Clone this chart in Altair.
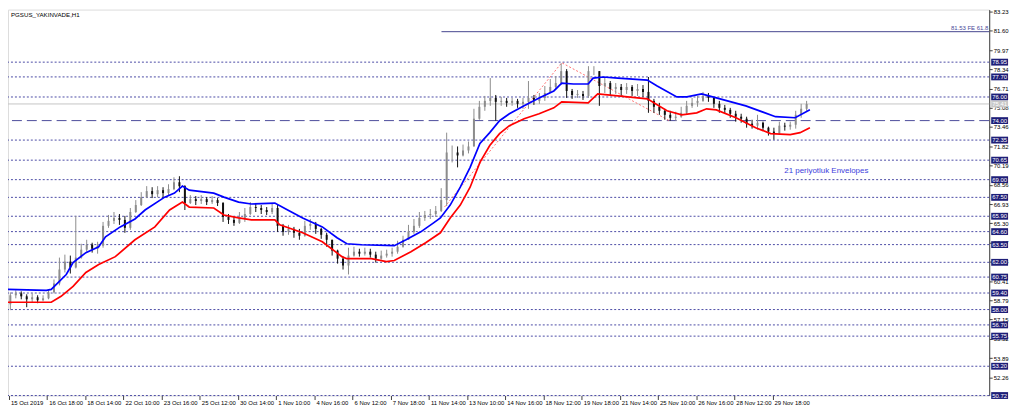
import altair as alt
import pandas as pd

# ---------------- data ----------------
symbol_title = "PGSUS_YAKINVADE,H1"

# candles (each candle = 2 hourly bars), open of first candle, then close/high/low
first_open = 58.45
close = [
    59.21, 59.37, 59.12, 58.87, 59.04, 58.79, 58.95, 59.46, 60.21, 61.39,
    62.06, 61.56, 62.40, 63.07, 63.49, 63.15, 63.41, 65.09, 65.51, 65.76,
    65.59, 64.92, 66.26, 66.85, 67.52, 68.03, 67.77, 68.11, 67.86, 68.20,
    68.78, 68.45, 67.02, 67.35, 67.19, 67.35, 67.10, 67.27, 67.02, 65.84,
    65.59, 65.34, 65.76, 66.09, 66.68, 66.60, 66.43, 66.26, 66.60, 65.09,
    64.58, 64.83, 64.50, 64.25, 65.09, 65.25, 64.83, 64.33, 63.91, 62.99,
    62.31, 61.73, 62.57, 62.90, 62.73, 62.90, 62.65, 62.31, 62.57, 62.73,
    62.90, 63.32, 63.91, 64.58, 65.09, 65.76, 66.01, 66.09, 66.35, 67.27,
    71.30, 71.30, 71.05, 71.47, 71.81, 74.16, 75.17, 75.67, 75.92, 75.59,
    75.67, 75.50, 75.67, 75.42, 75.59, 75.92, 75.67, 75.92, 76.34, 76.85,
    77.18, 78.19, 76.51, 76.17, 76.26, 76.09, 78.19, 78.19, 76.93, 77.18,
    76.68, 76.85, 76.59, 76.85, 76.51, 76.68, 76.43, 75.67, 75.17, 74.83,
    74.49, 74.24, 74.33, 74.66, 75.25, 75.50, 75.67, 76.09, 75.92, 75.42,
    75.08, 74.91, 74.58, 74.33, 74.16, 73.74, 73.57, 73.82, 73.40, 73.07,
    72.90, 73.57, 73.49, 73.65, 74.49, 75.00, 75.41,
]
high = [
    59.46, 59.63, 59.54, 59.29, 59.37, 59.21, 59.21, 59.71, 60.55, 62.40,
    62.65, 62.57, 65.93, 63.57, 63.91, 63.66, 63.74, 65.42, 66.01, 66.26,
    66.09, 65.93, 66.60, 67.27, 67.94, 68.45, 68.36, 68.45, 68.36, 68.61,
    69.20, 69.29, 68.53, 67.69, 67.61, 67.69, 67.52, 67.61, 67.44, 67.10,
    66.09, 65.84, 66.26, 66.60, 67.10, 67.02, 66.85, 66.68, 67.02, 66.85,
    65.25, 65.17, 65.00, 64.83, 65.51, 65.67, 65.42, 64.92, 64.50, 63.91,
    63.07, 62.48, 63.24, 63.32, 63.15, 63.24, 63.15, 62.90, 62.99, 63.07,
    63.24, 63.83, 64.25, 65.17, 65.67, 66.26, 66.35, 66.51, 66.77, 68.28,
    72.98, 71.89, 71.81, 71.97, 72.23, 75.00, 75.67, 76.09, 77.60, 76.17,
    76.01, 75.92, 75.92, 75.84, 75.92, 77.35, 76.17, 76.34, 76.93, 77.52,
    77.77, 78.86, 78.36, 76.68, 76.59, 76.51, 78.61, 78.61, 78.19, 77.69,
    77.35, 77.18, 77.10, 77.18, 77.01, 77.10, 77.01, 77.69, 75.84, 75.50,
    75.00, 74.83, 74.75, 75.17, 75.67, 75.92, 76.09, 76.43, 76.34, 76.01,
    75.67, 75.33, 75.08, 74.83, 74.58, 74.33, 74.07, 74.49, 73.91, 73.49,
    73.40, 73.91, 73.82, 73.91, 74.83, 75.42, 75.67,
]
low = [
    57.95, 58.95, 58.87, 58.20, 58.62, 58.54, 58.70, 58.87, 59.37, 60.05,
    61.14, 61.05, 61.48, 62.31, 62.90, 62.82, 62.73, 63.24, 64.92, 65.25,
    65.17, 64.50, 64.75, 66.18, 66.77, 67.44, 67.44, 67.52, 67.44, 67.61,
    68.11, 67.94, 66.43, 66.94, 66.85, 66.94, 66.85, 66.94, 66.77, 65.42,
    65.25, 65.09, 65.25, 65.42, 66.01, 66.26, 66.09, 66.01, 66.09, 64.58,
    64.25, 64.33, 64.08, 63.91, 64.16, 64.75, 64.41, 63.99, 63.32, 62.57,
    61.89, 61.39, 60.97, 62.48, 62.48, 62.57, 62.40, 61.98, 62.23, 62.40,
    62.48, 62.73, 63.24, 63.91, 64.41, 64.92, 65.51, 65.67, 65.84, 66.26,
    66.77, 70.46, 70.04, 70.97, 71.22, 71.81, 74.07, 74.83, 75.25, 73.99,
    75.25, 75.17, 75.25, 75.08, 75.00, 75.00, 75.33, 75.42, 75.67, 76.34,
    76.68, 77.01, 75.92, 75.84, 75.92, 75.75, 75.92, 77.85, 75.25, 76.34,
    76.17, 76.26, 76.09, 76.26, 76.09, 76.09, 76.01, 74.66, 74.66, 74.49,
    74.07, 73.99, 73.99, 74.24, 74.49, 75.08, 75.17, 75.59, 75.59, 75.08,
    74.66, 74.58, 74.24, 73.91, 73.82, 73.40, 73.32, 73.23, 73.15, 72.73,
    72.39, 72.81, 73.15, 73.23, 73.32, 74.24, 74.83,
]

# 21-period envelopes (bar index, price)
upper_bar = [-0.4, 13.7, 15.5, 21.0, 23.5, 28.2, 32.9, 35.4, 40.8, 46.2, 49.9, 57.1, 60.7,
             63.6, 66.1, 75.1, 78.8, 84.2, 88.9, 97.5, 102.2, 107.7, 114.9, 120.3, 123.9,
             129.3, 141.3, 145.6, 151.0, 155.7, 158.2, 161.8, 165.5, 169.1, 172.7, 176.3,
             179.9, 183.5, 188.9, 194.4, 199.8, 202.7, 207.0, 212.4, 214.2, 217.9, 223.3,
             234.1, 237.7, 244.9, 248.6, 254.0, 259.4, 270.2, 281.1, 288.3, 293.7]
upper_price = [59.71, 59.63, 59.71, 60.97, 61.98, 62.82, 63.32, 64.16, 65.00, 65.67, 66.43,
               67.52, 67.86, 68.45, 68.11, 67.86, 67.52, 67.10, 66.94, 67.02, 66.43, 65.76,
               65.00, 64.08, 63.57, 63.49, 63.41, 63.91, 64.58, 65.34, 65.76, 66.85, 68.36,
               70.04, 72.06, 72.98, 73.99, 74.58, 75.25, 75.92, 76.51, 77.18, 77.10, 77.10,
               77.60, 77.69, 77.60, 77.43, 76.93, 76.01, 76.01, 76.26, 75.92, 75.25, 74.33,
               74.24, 74.91]
lower_bar = [-0.4, 13.7, 15.5, 19.1, 23.5, 28.2, 32.9, 39.0, 46.2, 53.5, 58.9, 63.6, 66.1,
             75.1, 78.8, 84.2, 88.9, 97.5, 99.3, 107.7, 114.9, 122.1, 123.9, 132.9, 138.4,
             141.3, 147.4, 152.8, 158.2, 161.8, 165.5, 169.1, 172.7, 176.3, 179.9, 183.5,
             188.9, 194.4, 199.8, 202.7, 212.4, 215.9, 226.9, 234.1, 241.3, 246.7, 252.2,
             255.8, 259.4, 266.6, 273.8, 279.3, 286.5, 290.1, 293.7]
lower_price = [58.62, 58.62, 58.62, 59.12, 59.96, 61.14, 61.81, 62.48, 63.91, 65.00, 66.43,
               67.10, 66.68, 66.60, 66.01, 65.76, 65.59, 65.59, 65.17, 64.50, 63.74, 62.48,
               62.31, 62.31, 62.06, 62.15, 62.90, 63.66, 64.50, 65.76, 66.85, 68.36, 70.46,
               71.89, 72.90, 73.57, 74.16, 74.58, 75.08, 75.59, 75.50, 76.26, 76.01, 75.84,
               74.83, 74.49, 74.66, 75.00, 74.91, 74.24, 73.40, 72.90, 72.81, 72.98, 73.40]

# Fibonacci expansion points and level
zig_bar = [159.7, 202.7, 242.1]
zig_price = [66.68, 78.90, 74.00]
fe_start_bar = 158.6
fe_level = 81.53
fe_text = "81.53 FE 61.8"

# horizontal levels
levels_dotted = [78.95, 77.70, 76.00, 72.35, 70.65, 69.00, 67.50, 65.90, 64.60, 63.50,
                 62.00, 60.75, 59.40, 58.00, 56.70, 55.75, 53.20, 50.72]
levels_dashed = [74.00]
bid_price = 75.41

note_text = "21 periyotluk Envelopes"
note_bar = 284.3
note_price = 69.71

price_ticks = [83.23, 81.60, 79.97, 78.34, 76.71, 75.08, 73.46, 71.82, 70.19, 68.56,
               66.93, 65.30, 63.67, 62.04, 60.41, 58.79, 57.15, 55.52, 53.89, 52.26]
x_tick_bars = [0, 14, 28, 42, 56, 70, 84, 98, 112, 126, 140, 154, 168, 182, 196,
               210, 224, 238, 252, 266, 280]
x_tick_labels = ["15 Oct 2019", "16 Oct 18:00", "18 Oct 14:00", "22 Oct 10:00",
                 "23 Oct 16:00", "25 Oct 12:00", "30 Oct 14:00", "1 Nov 10:00",
                 "4 Nov 16:00", "6 Nov 12:00", "7 Nov 18:00", "11 Nov 14:00",
                 "13 Nov 10:00", "14 Nov 16:00", "18 Nov 12:00", "19 Nov 18:00",
                 "21 Nov 14:00", "25 Nov 10:00", "26 Nov 16:00", "28 Nov 12:00",
                 "29 Nov 18:00"]

X_DOMAIN = [-0.36, 359.46]
Y_DOMAIN = [50.72, 83.40]

# ---------------- tables ----------------
opens = [first_open] + close[:-1]
candles = pd.DataFrame({
    "bar": [2 * i + 0.5 for i in range(len(close))],
    "open": opens, "close": close, "high": high, "low": low,
})
candles["dir"] = ["up" if c >= o else "down" for o, c in zip(opens, close)]
upper = pd.DataFrame({"bar": upper_bar, "price": upper_price})
lower = pd.DataFrame({"bar": lower_bar, "price": lower_price})
zig = pd.DataFrame({"bar": zig_bar, "price": zig_price})
dotted = pd.DataFrame({"level": levels_dotted})
dashed = pd.DataFrame({"level": levels_dashed})
boxes = pd.DataFrame({"level": levels_dotted + levels_dashed})
bid = pd.DataFrame({"level": [bid_price]})
fe = pd.DataFrame({"bar": [fe_start_bar], "bar2": [X_DOMAIN[1]], "price": [fe_level],
                   "txt": [fe_text]})
note = pd.DataFrame({"bar": [note_bar], "price": [note_price], "txt": [note_text]})
title_df = pd.DataFrame({"txt": [symbol_title]})

FONT = "Liberation Sans"
label_expr = ("[" + ",".join("'%s'" % s for s in x_tick_labels) + "][indexof(["
              + ",".join(str(v) for v in x_tick_bars) + "], datum.value)]")

W, H = 989, 389
xscale = alt.Scale(domain=X_DOMAIN, nice=False, zero=False)
yscale = alt.Scale(domain=Y_DOMAIN, nice=False, zero=False)
xaxis = alt.Axis(values=x_tick_bars, labelExpr=label_expr, orient="bottom", title=None,
                 grid=False, domain=False, tickSize=4, tickColor="#404040",
                 labelAlign="left", labelBaseline="top", labelPadding=0, labelOffset=1.5,
                 labelFontSize=6, labelFont=FONT, labelColor="#000000",
                 labelOverlap=False, labelFlush=False)
yaxis = alt.Axis(orient="right", values=price_ticks, format=".2f", title=None, grid=False,
                 domain=True, domainColor="#404040", tickSize=3, tickColor="#404040",
                 labelPadding=1, labelFontSize=6, labelFont=FONT, labelColor="#000000",
                 labelOverlap=False, labelFlush=False)


def X(field):
    return alt.X(field, type="quantitative", scale=xscale, axis=xaxis)


def Y(field):
    return alt.Y(field, type="quantitative", scale=yscale, axis=yaxis)


dir_color = alt.Color("dir:N", scale=alt.Scale(domain=["up", "down"],
                                               range=["#8c8c8c", "#111111"]), legend=None)

levels_layer = alt.Chart(dotted).mark_rule(color="#4b4ba5", strokeDash=[2, 2],
                                           strokeWidth=1).encode(y=Y("level"))
dashed_layer = alt.Chart(dashed).mark_rule(color="#4b4b9b", strokeDash=[10, 5],
                                           strokeWidth=1).encode(y=Y("level"))
bid_layer = alt.Chart(bid).mark_rule(color="#c4c4c4", strokeWidth=1).encode(y=Y("level"))
fe_line = alt.Chart(fe).mark_rule(color="#45458f", strokeWidth=1).encode(
    x=X("bar"), x2="bar2:Q", y=Y("price"))
fe_label = alt.Chart(fe).mark_text(color="#4a4a9a", fontSize=6, font=FONT, align="right",
                                   baseline="bottom", dy=-1, dx=-1).encode(
    x=X("bar2"), y=Y("price"), text="txt:N")
zig_layer = alt.Chart(zig).mark_line(color="#ff7070", strokeDash=[2, 2],
                                     strokeWidth=1).encode(x=X("bar"), y=Y("price"))
wicks = alt.Chart(candles).mark_rule(strokeWidth=1).encode(
    x=X("bar"), y=Y("low"), y2="high:Q", color=dir_color)
bodies = alt.Chart(candles).mark_rule(strokeWidth=2, strokeCap="butt").encode(
    x=X("bar"), y=Y("open"), y2="close:Q", color=dir_color)
upper_layer = alt.Chart(upper).mark_line(color="#0000ff", strokeWidth=1.7).encode(
    x=X("bar"), y=Y("price"))
lower_layer = alt.Chart(lower).mark_line(color="#ff0000", strokeWidth=1.7).encode(
    x=X("bar"), y=Y("price"))
note_layer = alt.Chart(note).mark_text(color="#3c3cdc", fontSize=8, font=FONT,
                                       align="left", baseline="middle").encode(
    x=X("bar"), y=Y("price"), text="txt:N")
title_layer = alt.Chart(title_df).mark_text(color="#000000", fontSize=6.2, font=FONT,
                                            align="left", baseline="middle").encode(
    x=alt.value(3), y=alt.value(5), text="txt:N")
box_rect = alt.Chart(boxes).transform_calculate(
    lo="datum.level - 0.29", hi="datum.level + 0.29").mark_rect(color="#1e1e78").encode(
    x=alt.value(W + 2), x2=alt.value(W + 19), y=Y("lo"), y2="hi:Q")
box_text = alt.Chart(boxes).mark_text(color="#ffffff", fontSize=6, font=FONT,
                                      align="center", baseline="middle").encode(
    x=alt.value(W + 10.5), y=Y("level"), text=alt.Text("level:Q", format=".2f"))
bid_rect = alt.Chart(bid).transform_calculate(
    lo="datum.level - 0.29", hi="datum.level + 0.29").mark_rect(color="#c8c8c8").encode(
    x=alt.value(W + 2), x2=alt.value(W + 19), y=Y("lo"), y2="hi:Q")
bid_text = alt.Chart(bid).mark_text(color="#ffffff", fontSize=6, font=FONT,
                                    align="center", baseline="middle").encode(
    x=alt.value(W + 10.5), y=Y("level"), text=alt.Text("level:Q", format=".2f"))

chart = alt.layer(
    levels_layer, dashed_layer, bid_layer, fe_line, zig_layer, wicks, bodies,
    upper_layer, lower_layer, fe_label, note_layer, title_layer,
    box_rect, box_text, bid_rect, bid_text,
).properties(
    width=W, height=H,
    autosize=alt.AutoSizeParams(type="none"),
    padding={"left": 0, "top": 0, "right": 27, "bottom": 16},
).configure_view(stroke="#505050", strokeWidth=1).configure(background="#ffffff")

chart.save("out.html", embed_options={"renderer": "svg", "actions": False})
